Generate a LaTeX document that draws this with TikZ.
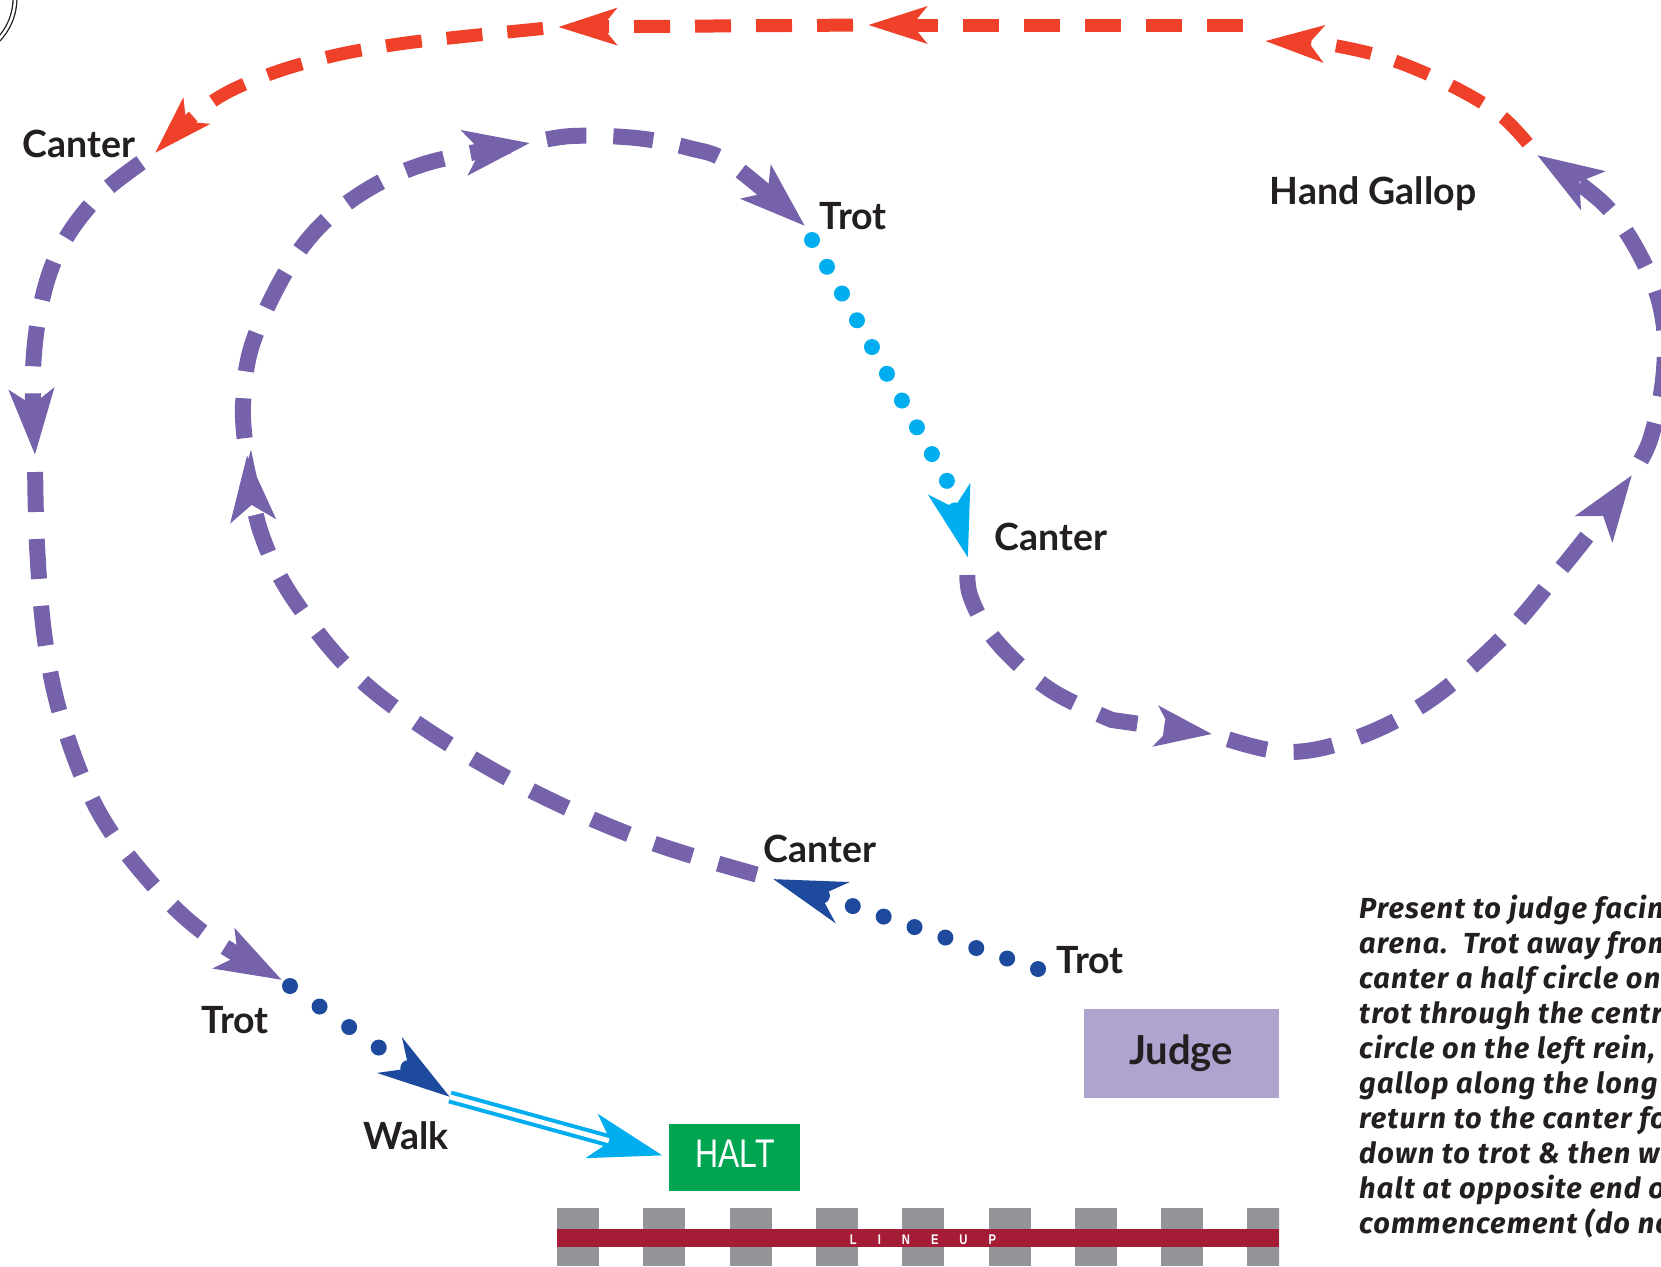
\documentclass[tikz,border=0pt]{standalone}
\usepackage{fontspec}
\setmainfont{Lato}
\newfontfamily\parafont{Fira Sans}[LetterSpace=4]
\newfontfamily\haltfont{Liberation Sans}[FakeStretch=0.8]
\usetikzlibrary{arrows.meta}
\definecolor{pur}{RGB}{117,98,171}
\definecolor{rd}{RGB}{239,65,41}
\definecolor{dblue}{RGB}{30,74,158}
\definecolor{cyn}{RGB}{0,174,239}
\definecolor{judgefill}{RGB}{175,163,208}
\definecolor{haltgreen}{RGB}{0,165,81}
\definecolor{lured}{RGB}{165,28,54}
\definecolor{lugray}{RGB}{147,149,152}
\definecolor{txt}{RGB}{35,31,32}
\tikzset{
  purtip/.style={-{Stealth[length=65pt,width=44pt,inset=15pt]}},
  purp/.style={draw=pur, line width=16pt, dash pattern=on 40pt off 27pt, dash phase=50pt, purtip},
  redp/.style={draw=rd, line width=13pt, dash pattern=on 36pt off 25pt, dash phase=46pt, -{Stealth[length=58pt,width=36pt,inset=14pt]}},
  dotline/.style={line width=16pt, line cap=round, dash pattern=on 0pt off #1},
  lbl/.style={font=\fontsize{37.5}{42}\selectfont\bfseries, text=txt, inner sep=0pt, anchor=base},
  paraline/.style={font=\parafont\fontsize{29}{35}\selectfont\bfseries\itshape, text=txt, inner sep=0pt, anchor=base west},
}
\begin{document}
\begin{tikzpicture}[x=1pt,y=-1pt]
\useasboundingbox (0,0) rectangle (1661,1266);
\fill[white] (0,0) rectangle (1661,1266);
\clip (0,0) rectangle (1661,1266);

% corner circle
\draw[txt, line width=1.3pt, double=white, double distance=2.5pt] (-46,-2) circle[radius=61pt];

% named points
\coordinate (tA) at (1038,969);
\coordinate (cA) at (773,879);
\coordinate (pB) at (247,455);
\coordinate (pC) at (530,143);
\coordinate (tB) at (805,226);
\coordinate (tBd) at (812,240);
\coordinate (bend) at (947,481);
\coordinate (cB) at (968,558);
\coordinate (pD) at (1212,734);
\coordinate (pE) at (1632,475);
\coordinate (gA) at (1537,155);
\coordinate (rA) at (1265,41);
\coordinate (rA2) at (1258,25);
\coordinate (rB) at (868,25);
\coordinate (rC) at (558,27);
\coordinate (cC) at (155,153);
\coordinate (pF) at (35,455);
\coordinate (tC) at (282,980);
\coordinate (tCd) at (290,986);
\coordinate (wA) at (450,1097);

% boxes
\node[fill=judgefill, minimum width=195pt, minimum height=89pt, inner sep=0pt] (judge) at (1181.5,1053.5) {};
\node[lbl, font=\fontsize{40}{44}\selectfont\bfseries] (judgetxt) at (1181,1064) {Judge};
\node[fill=haltgreen, minimum width=131pt, minimum height=67pt, inner sep=0pt] (halt) at (734.5,1157.5) {};
\node[text=white, inner sep=0pt, anchor=base, font=\haltfont\fontsize{40}{40}\selectfont] (halttxt) at (735,1167) {HALT};
\coordinate (hT) at ([xshift=-6pt,yshift=2pt]halt.west);

% line up strip
\begin{scope}
\clip (557,1200) rectangle (1279,1266);
\foreach \k in {0,...,8} \fill[lugray] ({557+86.3*\k},1208) rectangle ++(42,58);
\end{scope}
\fill[lured] (557,1229) rectangle (1279,1247);
\node[text=white, inner sep=0pt, anchor=base, font=\haltfont\bfseries\fontsize{14}{14}\selectfont] (lineup) at (923,1244) {L\hspace{21pt}I\hspace{21pt}N\hspace{21pt}E\hspace{21pt}U\hspace{21pt}P};

% paths
\draw[dblue, dotline=32.6pt, -{Stealth[length=72pt,width=42pt,inset=22pt]}] (tA) -- (cA);
\draw[purp] plot[smooth, tension=0.6] coordinates {(cA) (636,837) (498,773) (371,689) (297,604) (260,530) (pB)};
\draw[purp] plot[smooth, tension=0.6] coordinates {(pB) (243,405) (254,339) (297,254) (350,201) (424,164) (pC)};
\draw[purp] plot[smooth, tension=0.6] coordinates {(pC) (572,136) (636,138) (689,148) (731,164) (tB)};
\draw[cyn, dotline=30.67pt, -{Stealth[length=70pt,width=42pt,inset=18pt]}] (tBd) -- (bend) -- (cB);
\draw[purp, -{Stealth[length=56pt,width=40pt,inset=14pt]}] plot[smooth, tension=0.6] coordinates {(cB) (970,595) (996,641) (1049,689) (1112,720)} -- (pD);
\draw[purp] plot[smooth, tension=0.6] coordinates {(pD) (1285,752) (1356,738) (1430,700) (1504,636) (1560,570) (1598,522) (pE)};
\draw[purp] plot[smooth, tension=0.6] coordinates {(pE) (1650,440) (1663,380) (1663,320) (1645,265) (1605,205) (gA)};
\draw[redp] plot[smooth, tension=0.6] coordinates {(gA) (1500,115) (1440,80) (1380,56) (1326,44)} -- (rA);
\draw[redp] (rA2) -- (rB);
\draw[redp] (rB) -- (rC);
\draw[redp] plot[smooth, tension=0.6] coordinates {(rC) (459,37) (392,45) (328,57) (265,76) (210,103) (cC)};
\draw[purp] plot[smooth, tension=0.6] coordinates {(cC) (100,195) (62,245) (42,300) (33,370) (pF)};
\draw[purp] plot[smooth, tension=0.6] coordinates {(pF) (37,545) (45,640) (62,720) (95,805) (140,870) (200,930) (tC)};
\draw[dblue, dotline=36pt, -{Stealth[length=72pt,width=42pt,inset=22pt]}] (tCd) -- (wA);
\draw[cyn, line width=13pt, -{Stealth[length=72pt,width=44pt,inset=18pt]}] (wA) -- (hT);
\draw[white, line width=5pt, shorten >=56pt] (wA) -- (hT);

% labels
\node[lbl] (lCanterA) at (79,157) {Canter};
\node[lbl] (lTrotA) at (853,229) {Trot};
\node[lbl] (lGallop) at (1373,204) {Hand Gallop};
\node[lbl] (lCanterB) at (1051,550) {Canter};
\node[lbl] (lCanterC) at (820,862) {Canter};
\node[lbl] (lTrotB) at (1090,973) {Trot};
\node[lbl] (lTrotC) at (235,1033) {Trot};
\node[lbl] (lWalk) at (406,1149) {Walk};

% paragraph
\node[paraline] (para0) at (1359,918) {Present to judge facing};
\node[paraline] (para1) at (1359,953) {arena.\ \ Trot away from};
\node[paraline] (para2) at (1359,988) {canter a half circle on};
\node[paraline] (para3) at (1359,1023) {trot through the centre};
\node[paraline] (para4) at (1359,1058) {circle on the left rein,};
\node[paraline] (para5) at (1359,1093) {gallop along the long side};
\node[paraline] (para6) at (1359,1128) {return to the canter for};
\node[paraline] (para7) at (1359,1163) {down to trot \& then walk};
\node[paraline] (para8) at (1359,1198) {halt at opposite end of};
\node[paraline] (para9) at (1359,1233) {commencement (do not};
\end{tikzpicture}
\end{document}
